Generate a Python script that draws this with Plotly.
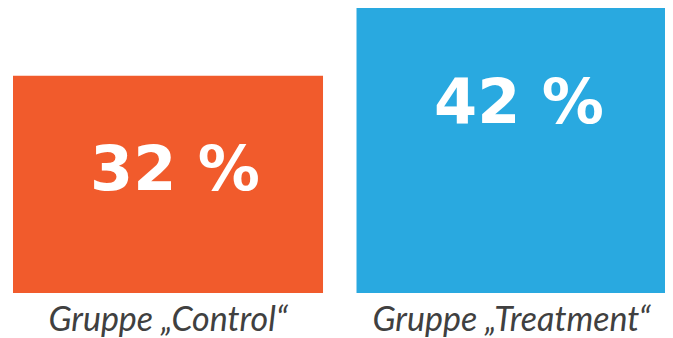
import plotly.graph_objects as go

categories = ["Gruppe „Control“", "Gruppe „Treatment“"]
values = [32, 42]
value_labels = ["32 %", "42 %"]
colors = ["#F15B2C", "#29A9E0"]

fig = go.Figure()
fig.add_trace(go.Bar(
    x=categories, y=values, marker=dict(color=colors, line=dict(width=0)),
    width=0.9025, hoverinfo="skip",
))

for c, v, t in zip(categories, values, value_labels):
    fig.add_annotation(
        x=c, y=v, xref="x", yref="y", text=t, showarrow=False,
        yanchor="middle", yshift=-93, xshift=7,
        font=dict(family="DejaVu Sans", size=62, color="white", weight=900),
    )

fig.update_layout(
    width=665, height=330,
    margin=dict(l=0, r=0, t=0, b=45),
    paper_bgcolor="white", plot_bgcolor="white",
    showlegend=False,
    xaxis=dict(range=[-0.4658, 1.4701], showgrid=False, zeroline=False,
               showline=False, ticks="", ticklabelstandoff=3,
               tickfont=dict(family="Lato", size=34, color="#404040", style="italic")),
    yaxis=dict(range=[0, 42], visible=False),
)
fig.write_html("out.html")
